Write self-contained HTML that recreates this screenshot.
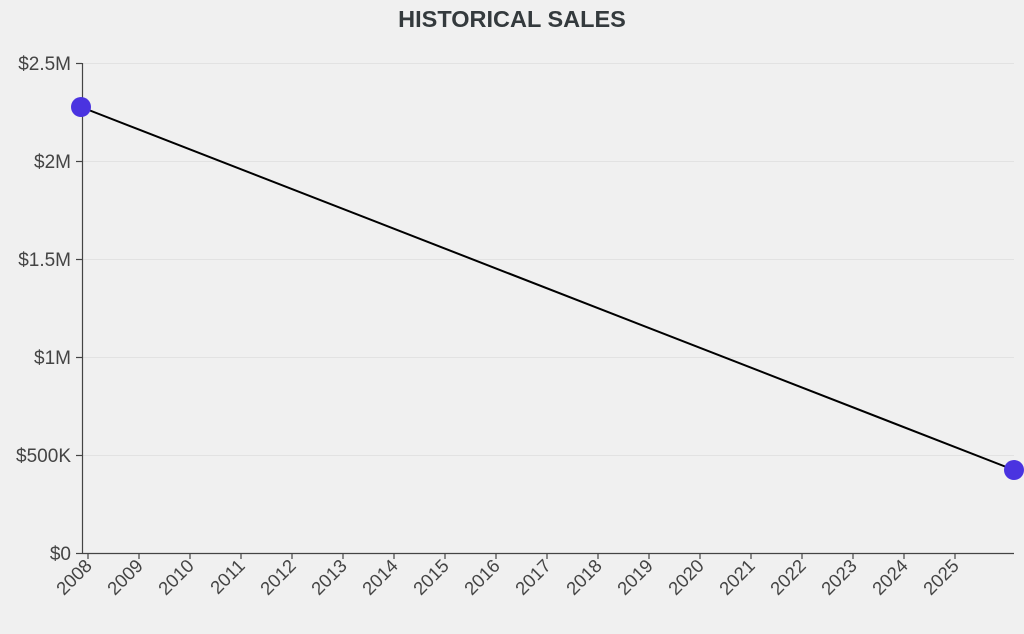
<!DOCTYPE html>
<html><head><meta charset="utf-8"><style>
html,body{margin:0;padding:0;background:#f0f0f0;}
svg{display:block;font-family:"Liberation Sans",sans-serif;}
</style></head><body>
<svg width="1024" height="634" viewBox="0 0 1024 634">
<rect width="1024" height="634" fill="#f0f0f0"/>
<text x="512" y="27" text-anchor="middle" font-size="23.5" font-weight="bold" fill="#343a3d">HISTORICAL SALES</text>
<g stroke="#e2e2e2" stroke-width="1">
<line x1="82" x2="1014" y1="63.5" y2="63.5"/>
<line x1="82" x2="1014" y1="161.5" y2="161.5"/>
<line x1="82" x2="1014" y1="259.5" y2="259.5"/>
<line x1="82" x2="1014" y1="357.5" y2="357.5"/>
<line x1="82" x2="1014" y1="455.5" y2="455.5"/>
</g>
<g stroke="#444" stroke-width="1.2">
<line x1="82.5" x2="82.5" y1="63" y2="553.5"/>
<line x1="82" x2="1014" y1="553.5" y2="553.5"/>
<line x1="76" x2="82" y1="63.5" y2="63.5"/>
<line x1="76" x2="82" y1="161.5" y2="161.5"/>
<line x1="76" x2="82" y1="259.5" y2="259.5"/>
<line x1="76" x2="82" y1="357.5" y2="357.5"/>
<line x1="76" x2="82" y1="455.5" y2="455.5"/>
<line x1="76" x2="82" y1="553.5" y2="553.5"/>
</g>
<g font-size="19" fill="#444" text-anchor="end">
<text x="71" y="70">$2.5M</text>
<text x="71" y="168">$2M</text>
<text x="71" y="266">$1.5M</text>
<text x="71" y="364">$1M</text>
<text x="71" y="462">$500K</text>
<text x="71" y="560">$0</text>
</g>
<g id="xt" stroke="#444" stroke-width="1.2"></g>
<g font-size="18.5" fill="#444" text-anchor="end">
<script>
(function(){
 var g=document.getElementById('xt'),ns="http://www.w3.org/2000/svg";
 var tg=document.currentScript.parentNode;
 for(var i=0;i<18;i++){
  var x=88+i*51;
  var l=document.createElementNS(ns,'line');
  l.setAttribute('x1',x);l.setAttribute('x2',x);l.setAttribute('y1',553);l.setAttribute('y2',559);
  g.appendChild(l);
  var t=document.createElementNS(ns,'text');
  t.setAttribute('transform','translate('+(x+5)+',567) rotate(-45)');
  t.textContent=2008+i;
  tg.appendChild(t);
 }
})();
</script>
</g>
<line x1="81" y1="107" x2="1014" y2="470" stroke="#000" stroke-width="2"/>
<circle cx="81" cy="107" r="10" fill="#4a33e0"/>
<circle cx="1014" cy="470" r="10" fill="#4a33e0"/>
</svg>
</body></html>
